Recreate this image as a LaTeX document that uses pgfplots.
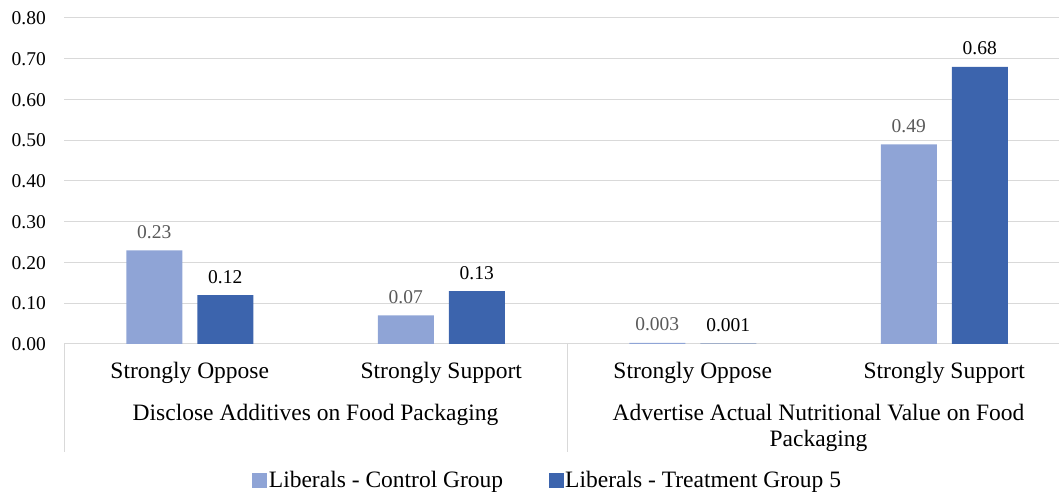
\documentclass[border=0pt]{standalone}
\usepackage{pgfplots}
\pgfplotsset{compat=1.18}
\usepackage{fontspec}
\setmainfont{Liberation Serif}
\definecolor{lightbar}{HTML}{8FA4D6}
\definecolor{darkbar}{HTML}{3C64AD}
\definecolor{gridgray}{HTML}{D9D9D9}
\definecolor{lblgray}{HTML}{595959}
\newcommand{\numfont}{\fontsize{19.5bp}{23bp}\selectfont}
\newcommand{\txtfont}{\fontsize{23.5bp}{26bp}\selectfont}
\begin{document}
\begin{tikzpicture}[x=1bp,y=1bp]
\path[use as bounding box] (0,0) rectangle (1059,492);
\begin{axis}[
  at={(64bp,148bp)}, anchor=south west,
  scale only axis, width=1006bp, height=326bp,
  xmin=-0.5, xmax=3.5, ymin=0, ymax=0.8,
  ybar=15bp, bar width=56bp,
  axis line style={draw=none},
  ymajorgrids, grid style={gridgray, line width=1bp},
  major tick length=0pt,
  ytick={0,0.1,...,0.8},
  /pgf/number format/fixed, /pgf/number format/fixed zerofill, /pgf/number format/precision=2, /pgf/number format/assume math mode=true,
  yticklabel style={font=\numfont, anchor=base east, inner sep=0pt, xshift=-18bp, yshift=-6.6bp, text=black},
  xtick={0,1,2,3},
  xticklabels={Strongly Oppose, Strongly Support, Strongly Oppose, Strongly Support},
  xticklabel style={font=\txtfont, anchor=base, inner sep=0pt, yshift=-35bp, text=black},
  clip=false,
  point meta=explicit symbolic,
  nodes near coords,
  every node near coord/.append style={font=\numfont, anchor=base, inner sep=0pt, yshift=12bp},
  legend columns=2,
  legend style={at={(0.4806,-0.4172)}, anchor=center, draw=none, fill=none, font=\txtfont,
    /tikz/every even column/.append style={column sep=44bp},
    nodes={inner sep=1.5bp}},
  legend image code/.code={\fill[#1] (0bp,-7.5bp) rectangle (15bp,7.5bp);},
]
\addplot[fill=lightbar, draw=none, every node near coord/.append style={text=lblgray}]
  coordinates {(0,0.23)[0.23] (1,0.07)[0.07] (2,0.003)[0.003] (3,0.49)[0.49]};
\addplot[fill=darkbar, draw=none, every node near coord/.append style={text=black}]
  coordinates {(0,0.12)[0.12] (1,0.13)[0.13] (2,0.001)[0.001] (3,0.68)[0.68]};
\legend{Liberals - Control Group, Liberals - Treatment Group 5}
\draw[gridgray, line width=1bp] (axis cs:-0.5,0) -- ([yshift=-108bp]axis cs:-0.5,0);
\draw[gridgray, line width=1bp] (axis cs:1.5,0) -- ([yshift=-108bp]axis cs:1.5,0);
\node[font=\txtfont, anchor=base, inner sep=0pt] at ([yshift=-77bp]axis cs:0.5,0) {Disclose Additives on Food Packaging};
\node[font=\txtfont, anchor=base, inner sep=0pt] at ([yshift=-77bp]axis cs:2.5,0) {Advertise Actual Nutritional Value on Food};
\node[font=\txtfont, anchor=base, inner sep=0pt] at ([yshift=-103bp]axis cs:2.5,0) {Packaging};
\end{axis}
\end{tikzpicture}
\end{document}
